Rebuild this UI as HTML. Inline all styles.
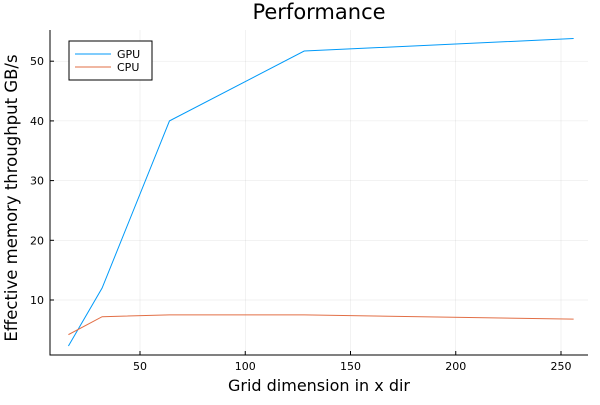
<!DOCTYPE html>
<html><head><meta charset="utf-8"><style>
body{margin:0;background:#fff;}
text{font-family:"DejaVu Sans","Liberation Sans",sans-serif;fill:#000;}
</style></head><body>
<svg width="600" height="400" xmlns="http://www.w3.org/2000/svg">
<g id="grid"></g>
<g id="axes"></g>
<g id="series"></g>
<text x="319" y="19" font-size="21" text-anchor="middle">Performance</text>
<text x="319" y="391" font-size="16" text-anchor="middle">Grid dimension in x dir</text>
<text transform="translate(17,198) rotate(-90)" font-size="16.5" text-anchor="middle">Effective memory throughput GB/s</text>
<g>
<rect x="69" y="41" width="83" height="39" fill="#fff" stroke="#000" stroke-width="1"/>
<g><line x1="75" y1="54" x2="111" y2="54" stroke="#009af9" stroke-width="1"/><text x="117" y="58" font-size="11">GPU</text></g>
<g><line x1="75" y1="67" x2="111" y2="67" stroke="#e26f46" stroke-width="1"/><text x="117" y="71" font-size="11">CPU</text></g>
</g>
</svg>
<script>
const xValues=[16,32,64,128,256];
const gpuValues=[2.3,12,40,51.7,53.8];
const cpuValues=[4.2,7.2,7.5,7.5,6.8];
const xTicks=[50,100,150,200,250];
const yTicks=[10,20,30,40,50];
const L=50,R=588,T=30,B=355;
const sx=v=>140+(v-50)*2.105;
const sy=v=>359.7-v*5.97;
const NS="http://www.w3.org/2000/svg";
function mk(t,a,p){const e=document.createElementNS(NS,t);for(const k in a)e.setAttribute(k,a[k]);p.appendChild(e);return e;}
const grid=document.getElementById('grid'),axes=document.getElementById('axes'),series=document.getElementById('series');
xTicks.forEach(t=>{const x=sx(t);
const g=mk('line',{x1:x,x2:x,y1:T,y2:B,stroke:'#000','stroke-opacity':0.1,'stroke-width':0.5},grid);


const tk=mk('line',{x1:x,x2:x,y1:B,y2:B-4,stroke:'#000'},axes);


const l=mk('text',{x:x,y:B+15,'font-size':11,'text-anchor':'middle'},axes);l.textContent=t;

});
yTicks.forEach(t=>{const y=sy(t);
const g=mk('line',{x1:L,x2:R,y1:y,y2:y,stroke:'#000','stroke-opacity':0.1,'stroke-width':0.5},grid);


const tk=mk('line',{x1:L,x2:L+4,y1:y,y2:y,stroke:'#000'},axes);


const l=mk('text',{x:L-6,y:y+4,'font-size':11,'text-anchor':'end'},axes);l.textContent=t;

});
const ax=mk('path',{d:`M${L} ${T}V${B}H${R}`,fill:'none',stroke:'#000','stroke-width':1},axes);


function line(vals,color,name){const p=mk('polyline',{points:vals.map((v,i)=>sx(xValues[i])+','+sy(v)).join(' '),fill:'none',stroke:color,'stroke-width':1},series);

}
line(gpuValues,'#009af9','gpu-line');
line(cpuValues,'#e26f46','cpu-line');
</script>
</body></html>
